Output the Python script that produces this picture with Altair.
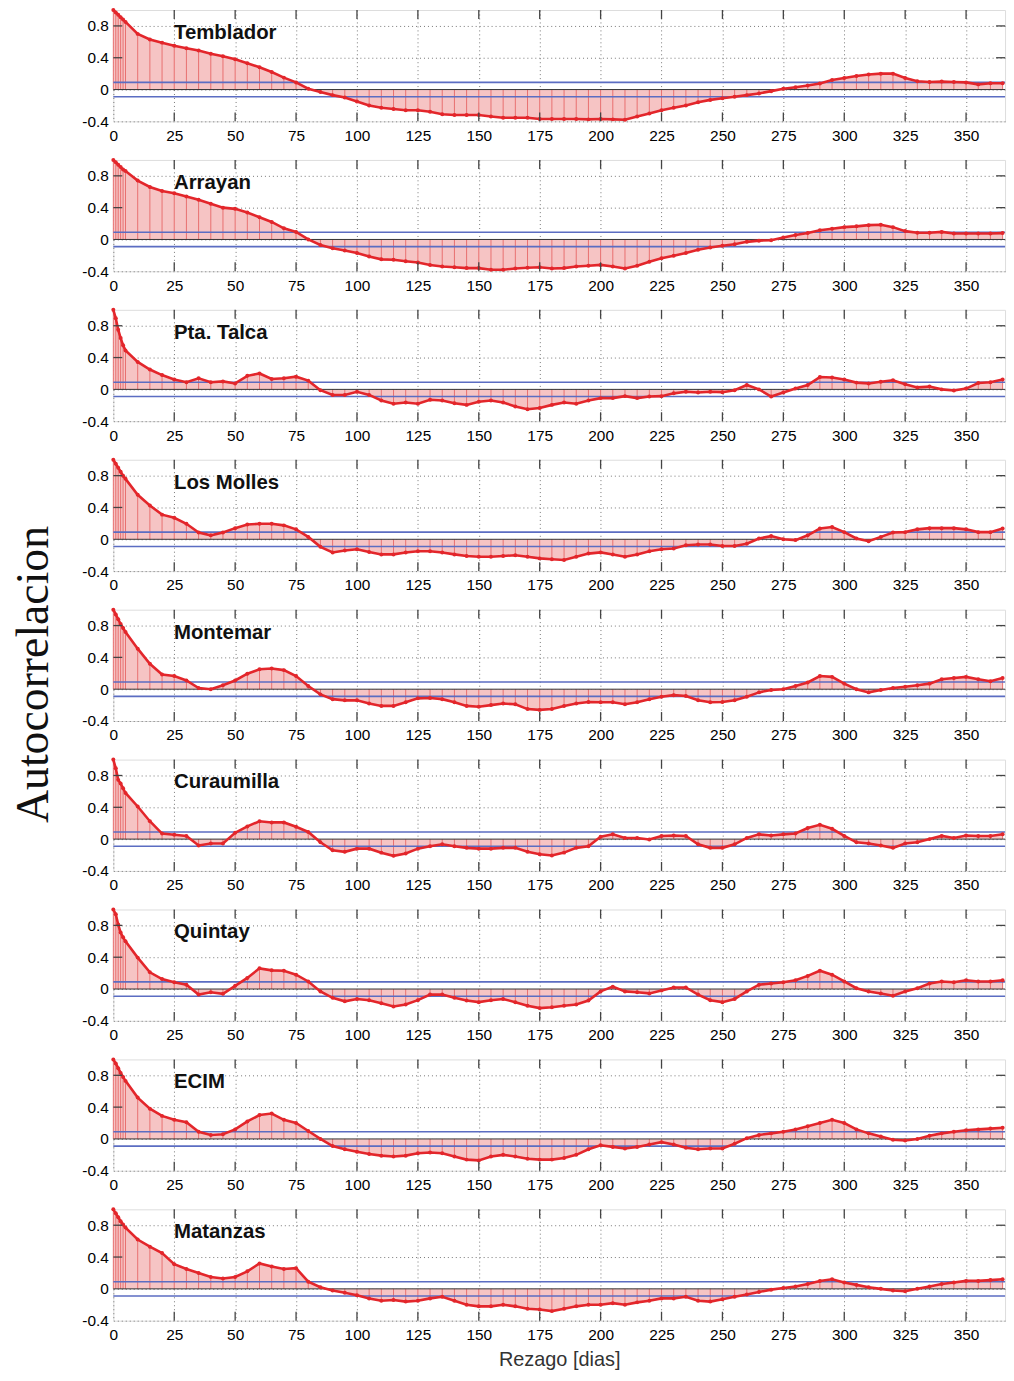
import altair as alt
import pandas as pd

LAGS = [0, 1, 2, 3, 4] + list(range(5, 366, 5))

STATIONS = ["Temblador", "Arrayan", "Pta. Talca", "Los Molles", "Montemar",
            "Curaumilla", "Quintay", "ECIM", "Matanzas"]

TEMBLADOR = [1.00, 0.97, 0.94, 0.91, 0.88,
             0.85, 0.70, 0.63, 0.59, 0.55, 0.52, 0.49, 0.45, 0.42, 0.38,
             0.33, 0.28, 0.22, 0.15, 0.09, 0.01, -0.03, -0.07, -0.10, -0.15,
             -0.20, -0.23, -0.245, -0.26, -0.26, -0.28, -0.31, -0.32, -0.32, -0.32,
             -0.34, -0.355, -0.355, -0.355, -0.37, -0.37, -0.37, -0.37, -0.375, -0.37,
             -0.375, -0.38, -0.34, -0.30, -0.26, -0.23, -0.20, -0.16, -0.13, -0.11,
             -0.09, -0.07, -0.05, -0.02, 0.01, 0.03, 0.05, 0.075, 0.12, 0.145,
             0.17, 0.19, 0.20, 0.20, 0.145, 0.105, 0.095, 0.10, 0.095, 0.09,
             0.065, 0.08, 0.08]

ARRAYAN = [1.00, 0.97, 0.94, 0.91, 0.88,
           0.86, 0.74, 0.66, 0.61, 0.58, 0.54, 0.50, 0.45, 0.40, 0.385,
           0.34, 0.28, 0.22, 0.14, 0.095, 0.00, -0.07, -0.11, -0.14, -0.17,
           -0.215, -0.25, -0.255, -0.275, -0.29, -0.32, -0.34, -0.35, -0.36, -0.36,
           -0.38, -0.38, -0.365, -0.355, -0.35, -0.365, -0.36, -0.34, -0.33, -0.32,
           -0.34, -0.365, -0.33, -0.28, -0.235, -0.205, -0.17, -0.13, -0.10, -0.08,
           -0.06, -0.03, -0.015, -0.01, 0.025, 0.055, 0.08, 0.115, 0.135, 0.155,
           0.165, 0.18, 0.185, 0.155, 0.105, 0.085, 0.085, 0.095, 0.075, 0.075,
           0.075, 0.075, 0.08]

PTA_TALCA = [1.00, 0.895, 0.75, 0.645, 0.555,
             0.49, 0.345, 0.25, 0.18, 0.125, 0.09, 0.14, 0.09, 0.10, 0.075,
             0.17, 0.20, 0.13, 0.14, 0.16, 0.11, -0.01, -0.07, -0.07, -0.03,
             -0.07, -0.14, -0.18, -0.165, -0.18, -0.13, -0.14, -0.175, -0.195, -0.155,
             -0.14, -0.165, -0.215, -0.25, -0.235, -0.195, -0.165, -0.18, -0.14, -0.11,
             -0.11, -0.085, -0.11, -0.09, -0.085, -0.05, -0.03, -0.04, -0.03, -0.035,
             -0.01, 0.055, 0.00, -0.09, -0.04, 0.01, 0.055, 0.155, 0.15, 0.125,
             0.085, 0.075, 0.095, 0.115, 0.065, 0.025, 0.035, 0.00, -0.015, 0.01,
             0.08, 0.09, 0.125]

LOS_MOLLES = [1.00, 0.95, 0.90, 0.85, 0.80,
              0.76, 0.56, 0.425, 0.31, 0.27, 0.195, 0.085, 0.05, 0.085, 0.14,
              0.185, 0.195, 0.195, 0.175, 0.125, 0.03, -0.095, -0.165, -0.14, -0.125,
              -0.16, -0.19, -0.19, -0.165, -0.15, -0.15, -0.165, -0.19, -0.21, -0.22,
              -0.22, -0.21, -0.20, -0.22, -0.24, -0.25, -0.26, -0.22, -0.18, -0.165,
              -0.19, -0.22, -0.19, -0.15, -0.125, -0.115, -0.075, -0.065, -0.065, -0.085,
              -0.085, -0.055, 0.01, 0.04, 0.00, -0.01, 0.05, 0.135, 0.155, 0.09,
              0.01, -0.025, 0.03, 0.085, 0.09, 0.125, 0.14, 0.14, 0.14, 0.125,
              0.09, 0.09, 0.135]

MONTEMAR = [1.00, 0.94, 0.88, 0.82, 0.77,
            0.72, 0.51, 0.32, 0.185, 0.165, 0.11, 0.015, 0.00, 0.05, 0.11,
            0.195, 0.25, 0.26, 0.24, 0.165, 0.04, -0.065, -0.125, -0.14, -0.14,
            -0.18, -0.21, -0.21, -0.165, -0.115, -0.11, -0.125, -0.165, -0.21, -0.22,
            -0.20, -0.18, -0.19, -0.25, -0.26, -0.25, -0.21, -0.18, -0.16, -0.165,
            -0.165, -0.19, -0.165, -0.125, -0.095, -0.075, -0.085, -0.14, -0.165, -0.16,
            -0.14, -0.095, -0.04, -0.01, 0.00, 0.04, 0.085, 0.165, 0.155, 0.07,
            0.00, -0.04, -0.01, 0.015, 0.03, 0.05, 0.07, 0.125, 0.14, 0.155,
            0.125, 0.10, 0.14]

CURAUMILLA = [1.00, 0.89, 0.745, 0.70, 0.64,
              0.58, 0.41, 0.225, 0.07, 0.055, 0.04, -0.08, -0.055, -0.055, 0.08,
              0.16, 0.225, 0.21, 0.21, 0.155, 0.09, -0.04, -0.14, -0.16, -0.12,
              -0.12, -0.17, -0.21, -0.18, -0.12, -0.09, -0.065, -0.09, -0.11, -0.12,
              -0.12, -0.11, -0.11, -0.16, -0.19, -0.205, -0.17, -0.11, -0.09, 0.03,
              0.06, 0.015, 0.015, -0.005, 0.04, 0.045, 0.04, -0.065, -0.11, -0.11,
              -0.065, 0.015, 0.06, 0.045, 0.06, 0.07, 0.14, 0.18, 0.13, 0.04,
              -0.04, -0.055, -0.08, -0.11, -0.055, -0.04, 0.00, 0.04, 0.015, 0.045,
              0.04, 0.04, 0.06]

QUINTAY = [1.00, 0.94, 0.81, 0.71, 0.65,
           0.60, 0.395, 0.21, 0.125, 0.085, 0.055, -0.07, -0.04, -0.06, 0.04,
           0.14, 0.26, 0.235, 0.23, 0.18, 0.095, -0.03, -0.11, -0.155, -0.125,
           -0.14, -0.18, -0.22, -0.195, -0.14, -0.07, -0.07, -0.11, -0.145, -0.165,
           -0.14, -0.125, -0.165, -0.21, -0.24, -0.23, -0.21, -0.195, -0.145, -0.03,
           0.03, -0.03, -0.04, -0.055, -0.02, 0.02, 0.02, -0.07, -0.14, -0.165,
           -0.125, -0.03, 0.055, 0.07, 0.085, 0.11, 0.165, 0.23, 0.18, 0.095,
           0.01, -0.03, -0.055, -0.085, -0.03, 0.01, 0.07, 0.095, 0.085, 0.11,
           0.095, 0.095, 0.11]

ECIM = [1.00, 0.95, 0.89, 0.83, 0.78,
        0.73, 0.52, 0.38, 0.29, 0.24, 0.21, 0.09, 0.05, 0.06, 0.12,
        0.22, 0.30, 0.32, 0.24, 0.20, 0.10, 0.00, -0.09, -0.13, -0.16,
        -0.19, -0.21, -0.22, -0.21, -0.18, -0.17, -0.18, -0.22, -0.26, -0.27,
        -0.22, -0.20, -0.22, -0.25, -0.26, -0.26, -0.24, -0.20, -0.13, -0.08,
        -0.10, -0.12, -0.10, -0.07, -0.04, -0.07, -0.11, -0.13, -0.12, -0.12,
        -0.06, 0.01, 0.05, 0.07, 0.09, 0.12, 0.16, 0.20, 0.24, 0.20,
        0.12, 0.07, 0.03, -0.01, -0.02, 0.00, 0.04, 0.07, 0.09, 0.11,
        0.12, 0.13, 0.14]

MATANZAS = [1.00, 0.95, 0.90, 0.85, 0.81,
            0.77, 0.62, 0.53, 0.45, 0.31, 0.25, 0.20, 0.15, 0.13, 0.15,
            0.22, 0.32, 0.28, 0.25, 0.26, 0.09, 0.02, -0.02, -0.05, -0.08,
            -0.12, -0.15, -0.14, -0.16, -0.15, -0.12, -0.10, -0.15, -0.20, -0.22,
            -0.22, -0.20, -0.22, -0.25, -0.26, -0.28, -0.25, -0.22, -0.20, -0.20,
            -0.18, -0.20, -0.17, -0.15, -0.12, -0.12, -0.10, -0.15, -0.16, -0.13,
            -0.10, -0.07, -0.04, -0.01, 0.01, 0.03, 0.06, 0.10, 0.12, 0.08,
            0.05, 0.02, 0.00, -0.02, -0.03, 0.00, 0.03, 0.06, 0.08, 0.10,
            0.10, 0.11, 0.12]

SERIES = [TEMBLADOR, ARRAYAN, PTA_TALCA, LOS_MOLLES, MONTEMAR,
          CURAUMILLA, QUINTAY, ECIM, MATANZAS]

X_TICKS = [0, 25, 50, 75, 100, 125, 150, 175, 200, 225, 250, 275, 300, 325, 350]
Y_TICKS = [-0.4, 0, 0.4, 0.8]
CONF_LEVELS = [0.09, -0.09]

W, H = 897, 112
XSCALE = alt.Scale(domain=[0, 366], nice=False, zero=False)
YSCALE = alt.Scale(domain=[-0.4, 1.0], nice=False, zero=False)
LABEL_EXPR = ("datum.value == 0 ? '0' : (datum.value < 0 ? '-' + format(-datum.value, '.1f')"
              " : format(datum.value, '.1f'))")

RED = "#e3262b"


def panel(name, vals, last):
    xtitle = "Rezago [dias]" if last else None
    xaxis = alt.Axis(values=X_TICKS, grid=True, gridDash=[1, 3], gridColor="#777",
                     domain=False, ticks=False, labelPadding=7, labelAngle=0,
                     labelFlush=False, labelFontSize=15.5, titleFontSize=20,
                     titleFontWeight="normal", titlePadding=7, titleColor="#333",
                     title=xtitle)
    yaxis = alt.Axis(values=Y_TICKS, grid=True, gridDash=[1, 3], gridColor="#777",
                     domain=False, ticks=False, labelPadding=5, labelFontSize=15.5,
                     labelFlush=False, labelExpr=LABEL_EXPR, title=None)

    df = pd.DataFrame({"lag": LAGS, "acf": vals, "zero": [0.0] * len(LAGS)})
    base = alt.Chart(df).encode(
        x=alt.X("lag:Q", scale=XSCALE, axis=xaxis, title=xtitle),
        y=alt.Y("acf:Q", scale=YSCALE, axis=yaxis, title=None),
    )
    area = base.mark_area(color="#f6c4c4", opacity=1).encode(y2="zero:Q")
    stems = base.mark_rule(color="#e87070", strokeWidth=1).encode(y2="zero:Q")
    line = base.mark_line(color=RED, strokeWidth=2.6)
    pts = base.mark_circle(color=RED, size=16, opacity=1)

    zero = alt.Chart(pd.DataFrame({"v": [0.0]})).mark_rule(color="#333", strokeWidth=1).encode(
        y=alt.Y("v:Q", scale=YSCALE, axis=yaxis, title=None))
    conf = alt.Chart(pd.DataFrame({"v": CONF_LEVELS})).mark_rule(
        color="#5b6dc2", strokeWidth=1.6).encode(
        y=alt.Y("v:Q", scale=YSCALE, axis=yaxis, title=None))

    xt = alt.Chart(pd.DataFrame({"t": X_TICKS[1:]}))
    xtick_top = xt.mark_rule(color="#444", strokeWidth=1.3).encode(
        x=alt.X("t:Q", scale=XSCALE, axis=xaxis, title=xtitle), y=alt.value(0), y2=alt.value(9))
    xtick_bot = xt.mark_rule(color="#444", strokeWidth=1.3).encode(
        x=alt.X("t:Q", scale=XSCALE, axis=xaxis, title=xtitle), y=alt.value(H), y2=alt.value(H - 9))
    yt = alt.Chart(pd.DataFrame({"t": [0.4, 0.8]}))
    ytick_r = yt.mark_rule(color="#444", strokeWidth=1.3).encode(
        y=alt.Y("t:Q", scale=YSCALE, axis=yaxis, title=None), x=alt.value(W), x2=alt.value(W - 9))
    ytick_l = yt.mark_rule(color="#444", strokeWidth=1.3).encode(
        y=alt.Y("t:Q", scale=YSCALE, axis=yaxis, title=None), x=alt.value(0), x2=alt.value(9))

    label = alt.Chart(pd.DataFrame({"s": [name]})).mark_text(
        align="left", baseline="middle", font="Liberation Sans", fontWeight="bold",
        fontSize=20.5, color="#111").encode(text="s:N", x=alt.value(61), y=alt.value(23))

    return alt.layer(area, stems, zero, conf, line, pts, xtick_top, xtick_bot,
                     ytick_r, ytick_l, label).properties(width=W, height=H)


panels = []
for i, (name, vals) in enumerate(zip(STATIONS, SERIES)):
    assert len(vals) == len(LAGS), (name, len(vals))
    panels.append(panel(name, vals, i == len(STATIONS) - 1))

chart = alt.vconcat(*panels, spacing=38.8, bounds="flush").properties(
    title=alt.TitleParams("Autocorrelacion", orient="left", anchor="middle",
                          font="Liberation Serif", fontSize=46, fontWeight="normal",
                          color="#111", offset=24, dx=13),
    padding={"left": 10, "top": 0, "right": 5, "bottom": 4},
).configure_view(stroke="#555", strokeWidth=1.3).configure_axis(
    labelFont="Liberation Sans", labelColor="#222", titleFont="Liberation Sans"
).configure(background="white")

chart.save("out.html", embed_options={"renderer": "svg", "actions": False})
